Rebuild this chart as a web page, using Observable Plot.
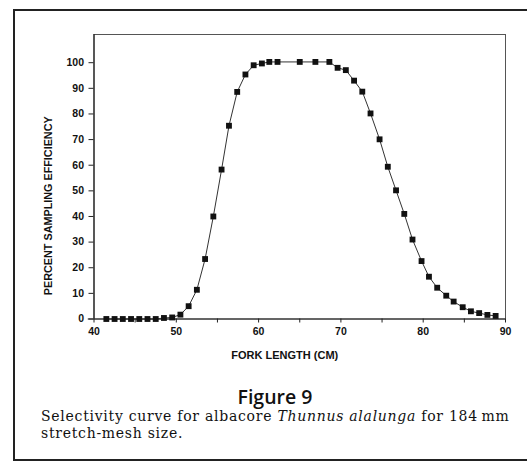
<!DOCTYPE html>
<html>
<head>
<meta charset="utf-8">
<script src="https://cdn.jsdelivr.net/npm/d3@7"></script>
<script src="https://cdn.jsdelivr.net/npm/@observablehq/plot@0.6"></script>
<style>
  html, body { margin: 0; padding: 0; background: #fff; overflow: hidden; }
  #page { position: relative; width: 527px; height: 463px; overflow: hidden; background: #fff; }
  #border { position: absolute; left: 13px; top: 9px; width: 514px; height: 452px;
            border-top: 2px solid #222; border-left: 2px solid #222; border-bottom: 2px solid #222; box-sizing: border-box; }
  #chart { position: absolute; left: 0; top: 0; }
  #title { position: absolute; left: 0; width: 550px; top: 386px; text-align: center;
           font-family: "Open Sans", sans-serif; font-weight: 600; font-size: 19.5px; line-height: 22px; color: #111; }
  #caption { position: absolute; left: 41px; top: 408px; width: 486px; white-space: nowrap;
             font-family: "DejaVu Serif", serif; font-size: 14px; letter-spacing: 0.73px; line-height: 17px; color: #111; }
</style>
</head>
<body>
<div id="page">
  <div id="border"></div>
  <div id="chart"></div>
  <div id="title"></div>
  <div id="caption"></div>
</div>
<script>
// Data
const forkLength = [41.5, 42.5, 43.5, 44.5, 45.5, 46.5, 47.5, 48.5, 49.5, 50.5,
                    51.5, 52.5, 53.5, 54.5, 55.5, 56.4, 57.4, 58.4, 59.4, 60.4,
                    61.3, 62.3, 65.0, 66.9, 68.6, 69.6, 70.6, 71.6, 72.6, 73.6,
                    74.7, 75.7, 76.7, 77.7, 78.7, 79.8, 80.7, 81.7, 82.8, 83.7,
                    84.8, 85.8, 86.8, 87.8, 88.8];
const efficiency = [0, 0, 0, 0, 0, 0, 0, 0.4, 0.6, 1.7,
                    5.0, 11.4, 23.4, 40.0, 58.3, 75.4, 88.6, 95.4, 99.0, 99.7,
                    100.3, 100.3, 100.3, 100.3, 100.3, 98.0, 97.1, 93.0, 88.7, 80.2,
                    70.1, 59.4, 50.2, 41.0, 31.0, 22.6, 16.5, 12.2, 9.1, 6.8,
                    4.6, 3.0, 2.3, 1.6, 1.2];
const yTicks = [0, 10, 20, 30, 40, 50, 60, 70, 80, 90, 100];
const xTicks = [40, 50, 60, 70, 80, 90];
const xMinorTicks = [40, 45, 50, 55, 60, 65, 70, 75, 80, 85, 90];
const xLabel = "FORK LENGTH (CM)";
const yLabel = "PERCENT SAMPLING EFFICIENCY";
const figTitle = "Figure 9";

const data = forkLength.map((x, i) => ({x, y: efficiency[i]}));

const axisFont = "Liberation Sans, Arial, sans-serif";

const chart = Plot.plot({
  width: 527,
  height: 370,
  marginLeft: 93.5,
  marginRight: 22,
  marginTop: 34,
  marginBottom: 51.5,
  style: {background: "transparent", fontFamily: axisFont, fontSize: "10.5px", fontWeight: "bold", color: "#111"},
  x: {domain: [40, 90]},
  y: {domain: [0, 111]},
  marks: [
    Plot.frame({stroke: "#555", strokeWidth: 1}),
    Plot.axisY({ticks: yTicks, tickSize: 5, tickPadding: 5, label: null, stroke: "#222"}),
    Plot.axisX({ticks: xMinorTicks, tickSize: 4, tickFormat: () => "", label: null, stroke: "#222"}),
    Plot.axisX({ticks: xTicks, tickSize: 0, tickPadding: 9, label: null}),
    Plot.ruleY([0], {stroke: "#222", strokeWidth: 1.2, x1: 39.3, x2: 90}),
    Plot.ruleX([40], {stroke: "#222", strokeWidth: 1.2}),
    Plot.line(data, {x: "x", y: "y", stroke: "#333", strokeWidth: 1}),
    Plot.dot(data, {x: "x", y: "y", symbol: "square", r: 3.3, fill: "#111", stroke: "none"}),
    Plot.text([yLabel], {text: d => d, frameAnchor: "left", textAnchor: "middle", rotate: -90, dx: -45.5, dy: 29,
                         fontSize: 10.8, fontWeight: "bold", fill: "#111"}),
    Plot.text([xLabel], {text: d => d, frameAnchor: "bottom", dx: -15, dy: 40,
                         fontSize: 11, fontWeight: "bold", fill: "#111"})
  ]
});
document.getElementById("chart").appendChild(chart);
document.getElementById("title").textContent = figTitle;
document.getElementById("caption").innerHTML =
  "Selectivity curve for albacore <i>Thunnus alalunga</i> for 184&#8239;mm<br>stretch-mesh size.";
</script>
</body>
</html>
